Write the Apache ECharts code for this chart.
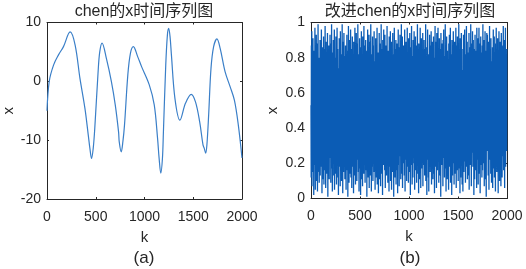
<!DOCTYPE html>
<html>
<head>
<meta charset="utf-8">
<script src="https://cdn.jsdelivr.net/npm/echarts@6/dist/echarts.min.js"></script>
<style>html,body{margin:0;padding:0;background:#fff}#c{width:526px;height:269px}</style>
</head>
<body>
<div id="c"></div>
<script>
// Panel (a): chen x time series
var kA = [0,23,68,118,169,237,288,338,389,423,440,457,474,490,524,541,565,609,660,700,734,741,761,778,795,829,856,886,930,970,1049,1100,1134,1150,1167,1184,1194,1218,1235,1248,1262,1276,1312,1363,1421,1479,1523,1566,1600,1613,1627,1640,1658,1682,1709,1743,1776,1827,1878,1922,1962,2000];
var xA = [-5,0,2.8,4.5,5.9,8.4,6.2,0.5,-4.6,-9.1,-11.4,-13.1,-11.4,-8,1.6,5.0,6.5,3.9,0,-4,-8.6,-10.3,-12,-10.3,-7.4,1.1,4.8,5.9,4.2,2.5,-0.6,-4,-9.7,-13.1,-15.6,-13.1,-8.6,2.8,7.9,9.0,7.6,4.5,-2.9,-6.6,-3.7,-2.2,-3.5,-6.9,-10.8,-11.4,-12.2,-10.8,-5.7,2.2,5.9,7.2,5.6,1.6,-0.9,-3.2,-7.4,-13];

// Panel (b): improved chen x time series, one value every kStepB
var kStepB = 2;
var xB = [
.53,.12,.87,.34,.95,.07,.66,.41,.22,.78,.91,.15,.48,.63,.02,.84,.29,.71,.56,.19,.97,.38,.05,.82,.44,
.61,.26,.93,.10,.73,.49,.88,.31,.04,.67,.15,.99,.42,.57,.21,.80,.36,.09,.74,.52,.28,.90,.13,.65,.47,
.83,.18,.59,.96,.24,.70,.03,.45,.86,.33,.62,.11,.77,.54,.92,.27,.08,.69,.40,.85,.16,.58,.98,.30,.72,
.06,.50,.89,.37,.64,.14,.81,.43,.25,.94,.55,.01,.76,.32,.68,.20,.87,.46,.11,.60,.79,.35,.93,.23,.51,
.88,.09,.42,.75,.17,.99,.57,.28,.66,.04,.83,.39,.61,.13,.90,.47,.22,.71,.34,.96,.05,.63,.48,.80,.26,
.14,.67,.92,.31,.56,.08,.78,.44,.97,.20,.53,.85,.12,.69,.37,.02,.74,.59,.29,.91,.41,.18,.86,.64,.07,
.95,.33,.58,.21,.82,.46,.10,.73,.52,.99,.27,.65,.03,.89,.40,.76,.15,.60,.94,.36,.24,.81,.49,.11,.70,
.43,.87,.19,.62,.05,.79,.54,.30,.93,.16,.68,.45,.84,.01,.57,.25,.98,.38,.72,.09,.50,.90,.32,.77,.14,
.66,.23,.96,.48,.12,.74,.35,.85,.06,.61,.42,.92,.28,.55,.18,.80,.67,.03,.89,.44,.27,.71,.58,.13,.97,
.37,.83,.08,.64,.51,.20,.94,.39,.75,.10,.56,.88,.31,.47,.99,.22,.69,.15,.82,.53,.04,.78,.34,.91,.60,
.17,.73,.45,.02,.86,.62,.29,.95,.11,.50,.81,.36,.67,.07,.92,.43,.24,.76,.58,.14,.98,.40,.65,.19,.87,
.55,.09,.70,.33,.90,.48,.16,.84,.27,.63,.01,.79,.52,.38,.96,.21,.68,.12,.85,.45,.30,.93,.06,.74,.41,
.89,.26,.57,.13,.77,.99,.35,.60,.04,.82,.47,.18,.71,.54,.92,.28,.10,.66,.39,.87,.23,.59,.95,.15,.50,
.32,.78,.05,.63,.44,.91,.20,.69,.86,.12,.55,.37,.97,.08,.73,.49,.25,.83,.61,.03,.80,.42,.17,.94,.56,
.11,.68,.88,.30,.52,.07,.75,.46,.99,.22,.64,.14,.85,.39,.58,.02,.90,.34,.71,.53,.19,.96,.27,.62,.45,
.81,.16,.93,.40,.06,.72,.57,.29,.87,.48,.13,.79,.35,.98,.61,.21,.67,.09,.84,.44,.31,.76,.50,.04,.92,
.38,.60,.18,.83,.53,.95,.10,.70,.42,.26,.89,.05,.64,.47,.77,.33,.15,.94,.56,.23,.82,.68,.01,.73,.36,
.97,.43,.21,.65,.12,.85,.51,.30,.90,.08,.59,.74,.37,.16,.88,.46,.62,.03,.79,.27,.96,.55,.19,.70,.41,
.07,.86,.34,.58,.93,.24,.67,.49,.11,.80,.39,.99,.28,.54,.14,.75,.92,.06,.63,.45,.20,.87,.52,.33,.78,
.60,.13,.71,.96,.37,.04,.84,.50,.22,.68,.89,.31,.57,.10,.76,.43,.97,.25,.65,.18,.82,.40,.09,.91,.54,
.29,.79,.47,.15,.94,.62,.35,.02,.73,.56,.86,.19,.44,.98,.27,.67,.08,.81,.53,.36,.12,.90,.64,.23,.75,
.48,.95,.20,.69,.05,.83,.41,.58,.92,.16,.72,.30,.87,.51,.09,.77,.39,.63,.99,.25,.46,.14,.85,.60,.03,
.88,.32,.66,.11,.54,.80,.44,.97,.21,.59,.06,.74,.38,.91,.17,.50,.83,.28,.70,.42,.94,.07,.61,.35,.78,
.19,.57,.90,.40,.73,.13,.85,.26,.64,.48,.99,.10,.68,.33,.79,.55,.02,.86,.45,.22,.96,.52,.31,.75,.12,
.65,.04,.82,.49,.27,.93,.36,.70,.15,.58,.87,.43,.20,.95,.62,.08,.77,.39,.53,.89,.24,.67,.11,.84,.46,
.92,.37,.14,.71,.56,.03,.80,.47,.98,.29,.63,.18,.89,.41,.74,.06,.51,.94,.32,.60,.16,.78,.44,.97,.25,
.52,.83,.09,.66,.38,.91,.22,.57,.13,.85,.47,.72,.01,.94,.34,.69,.50,.19,.88,.43,.28,.76,.61,.07,.90,
.35,.64,.96,.23,.48,.81,.12,.73,.55,.30,.99,.17,.62,.86,.04,.70,.45,.92,.26,.58,.11,.84,.39,.67,.15,
.79,.42,.05,.88,.60,.27,.93,.51,.18,.76,.34,.97,.09,.65,.44,.82,.21,.56,.02,.90,.68,.37,.13,.74,.53,
.20,.95,.59,.31,.84,.08,.71,.46,.89,.14,.63,.40,.78,.25,.97,.55,.06,.87,.33,.69,.49,.16,.92,.28,.61,
.86,.10,.75,.43,.99,.24,.54,.17,.81,.66,.03,.91,.38,.58,.12,.77,.47,.94,.30,.62,.85,.08,.51,.73,.36,
.04,.70,.28,.93,.50,.15,.87,.62,.35,.96,.21,.68,.44,.09,.82,.57,.29,.75,.98,.18,.64,.41,.89,.11,.56,
.77,.48,.83,.13,.67,.39,.94,.05,.59,.32,.86,.52,.19,.73,.46,.99,.23,.61,.07,.88,.35,.55,.80,.26,.95,
.41,.18,.64,.90,.27,.76,.02,.53,.85,.37,.11,.69,.93,.45,.60,.16,.84,.31,.72,.50,.06,.97,.40,.65,.22,
.58,.91,.33,.08,.79,.45,.66,.97,.14,.52,.88,.25,.71,.03,.63,.38,.92,.19,.55,.83,.29,.74,.12,.48,.87,
.16,.62,.99,.42,.55,.20,.73,.36,.90,.07,.81,.47,.28,.95,.58,.11,.69,.84,.34,.01,.76,.53,.94,.30,.67,
.93,.27,.50,.80,.13,.64,.89,.39,.05,.71,.57,.98,.22,.46,.85,.33,.60,.14,.91,.43,.68,.09,.78,.54,.24,
.45,.86,.06,.68,.31,.96,.52,.17,.77,.40,.92,.12,.59,.83,.26,.70,.04,.88,.49,.36,.97,.21,.63,.15,.82,
.70,.34,.91,.19,.57,.03,.84,.61,.28,.95,.44,.75,.10,.66,.37,.89,.53,.23,.80,.07,.58,.94,.32,.72,.47,
.12,.79,.55,.87,.24,.63,.98,.41,.16,.74,.50,.90,.29,.06,.85,.60,.35,.97,.18,.69,.43,.82,.58,.27,.85
];

var titles = ['chen的x时间序列图', '改进chen的x时间序列图'];
var panelLabels = ['(a)', '(b)'];
var xName = 'k', yName = 'x';

var FONT = "'Liberation Sans', Arial, 'Noto Sans CJK SC', sans-serif";
var TXT = '#262626';

var chart = echarts.init(document.getElementById('c'), null, {renderer: 'canvas'});

function xAx(grid, pos, show) {
  return {
    type: 'value', gridIndex: grid, position: pos, min: 0, max: 2000, interval: 500,
    name: show ? xName : '', nameLocation: 'middle', nameGap: 31,
    nameTextStyle: {fontFamily: FONT, fontSize: 15, color: TXT},
    axisLine: {show: true, onZero: false, lineStyle: {color: TXT, width: 1}},
    axisTick: {show: true, inside: true, length: 2, lineStyle: {color: TXT}},
    axisLabel: {show: show, fontFamily: FONT, fontSize: 14, color: TXT, margin: 11,
                formatter: function (v) { return String(v); }},
    splitLine: {show: false}
  };
}
function yAx(grid, pos, show, min, max, interval, fmt) {
  return {
    type: 'value', gridIndex: grid, position: pos, min: min, max: max, interval: interval,
    name: show ? yName : '', nameLocation: 'middle', nameGap: 31, nameRotate: 90,
    nameTextStyle: {fontFamily: FONT, fontSize: 15, color: TXT},
    axisLine: {show: true, onZero: false, lineStyle: {color: TXT, width: 1}},
    axisTick: {show: true, inside: true, length: 2, lineStyle: {color: TXT}},
    axisLabel: {show: show, fontFamily: FONT, fontSize: 14, color: TXT, margin: 6, formatter: fmt},
    splitLine: {show: false}
  };
}

var dataA = kA.map(function (k, i) { return [k, xA[i]]; });
var dataB = xB.map(function (v, i) { return [i * kStepB, v]; });

var option = {
  animation: false,
  grid: [
    {left: 45, top: 22.5, width: 197, height: 176.5},
    {left: 311, top: 22.5, width: 196, height: 176}
  ],
  xAxis: [xAx(0, 'bottom', true), xAx(0, 'top', false), xAx(1, 'bottom', true), xAx(1, 'top', false)],
  yAxis: [
    yAx(0, 'left', true, -20, 10, 10, function (v) { return String(v); }),
    yAx(0, 'right', false, -20, 10, 10),
    yAx(1, 'left', true, 0, 1, 0.2, function (v) { return (v === 0 || v === 1) ? String(v) : v.toFixed(1); }),
    yAx(1, 'right', false, 0, 1, 0.2)
  ],
  series: [
    {type: 'line', xAxisIndex: 0, yAxisIndex: 0, data: dataA, showSymbol: false, smooth: 0.35,
     lineStyle: {color: '#3a7fc8', width: 1.2}, itemStyle: {color: '#3a7fc8'}},
    {type: 'line', xAxisIndex: 2, yAxisIndex: 2, data: dataB, showSymbol: false, sampling: false,
     lineStyle: {color: '#0b5cb5', width: 1.3}, itemStyle: {color: '#0b5cb5'}}
  ],
  graphic: [
    {type: 'text', x: 144, y: 12, style: {text: titles[0], font: '16px ' + FONT, fill: TXT, textAlign: 'center', textVerticalAlign: 'middle'}},
    {type: 'text', x: 410, y: 12, style: {text: titles[1], font: '16px ' + FONT, fill: TXT, textAlign: 'center', textVerticalAlign: 'middle'}},
    {type: 'text', x: 144, y: 258, style: {text: panelLabels[0], font: '17px ' + FONT, fill: TXT, textAlign: 'center', textVerticalAlign: 'middle'}},
    {type: 'text', x: 410, y: 258, style: {text: panelLabels[1], font: '17px ' + FONT, fill: TXT, textAlign: 'center', textVerticalAlign: 'middle'}}
  ]
};
chart.setOption(option);
</script>
</body>
</html>
